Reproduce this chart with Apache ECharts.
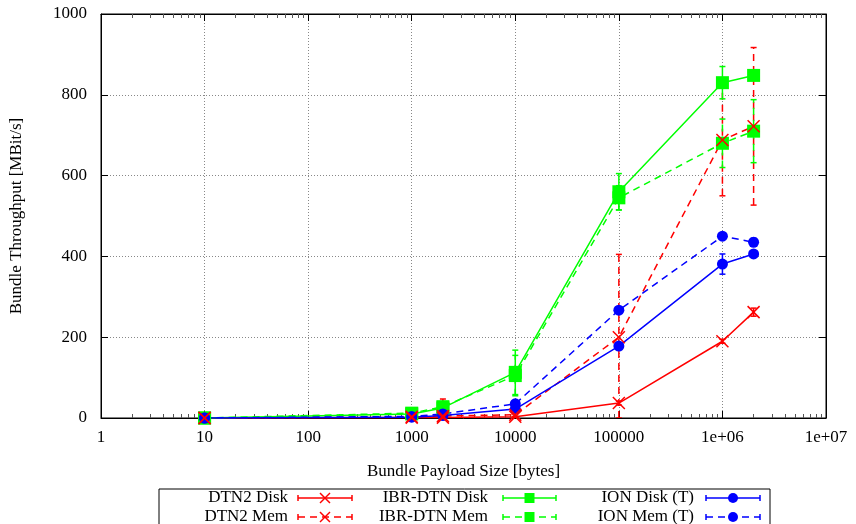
<!DOCTYPE html>
<html>
<head>
<meta charset="utf-8">
<script src="https://cdn.jsdelivr.net/npm/echarts@6/dist/echarts.min.js"></script>
<style>
  html, body { margin: 0; padding: 0; background: #fff; }
  #chart { width: 856px; height: 524px; }
</style>
</head>
<body>
<div id="chart"></div>
<script>
// payload sizes (bytes)
var sizes = [10, 1000, 2000, 10000, 100000, 1000000, 2000000];

// throughput values [MBit/s]
var dtn2Disk = [0, 1, 1, 3, 37, 190, 262];
var dtn2Mem = [0, 3, 5, 8, 200, 688, 722];
var ibrDisk = [0, 10, 25, 113, 560, 830, 848];
var ibrMem = [0, 12, 28, 105, 545, 680, 710];
var ionDisk = [0, 2, 6, 22, 178, 381, 406];
var ionMem = [0, 4, 10, 35, 267, 450, 435];

// error bar half widths
var dtn2DiskErr = [0, 0, 0, 1, 5, 5, 10];
var dtn2MemErr = [0, 2, 42, 5, 205, 138, 195];
var ibrDiskErr = [0, 2, 5, 55, 45, 40, 10];
var ibrMemErr = [0, 2, 5, 50, 30, 60, 78];
var ionDiskErr = [0, 1, 2, 5, 5, 25, 5];
var ionMemErr = [0, 1, 2, 5, 5, 5, 10];

var xTickLabels = {1: '1', 10: '10', 100: '100', 1000: '1000', 10000: '10000', 100000: '100000', 1000000: '1e+06', 10000000: '1e+07'};

var RED = '#ff0000', GREEN = '#00ff00', BLUE = '#0000ff';

var defs = [
  {name: 'DTN2 Disk', data: dtn2Disk, err: dtn2DiskErr, color: RED, dash: false, symbol: 'cross'},
  {name: 'DTN2 Mem', data: dtn2Mem, err: dtn2MemErr, color: RED, dash: true, symbol: 'cross'},
  {name: 'IBR-DTN Disk', data: ibrDisk, err: ibrDiskErr, color: GREEN, dash: false, symbol: 'rect'},
  {name: 'IBR-DTN Mem', data: ibrMem, err: ibrMemErr, color: GREEN, dash: true, symbol: 'rect'},
  {name: 'ION Disk (T)', data: ionDisk, err: ionDiskErr, color: BLUE, dash: false, symbol: 'circle'},
  {name: 'ION Mem (T)', data: ionMem, err: ionMemErr, color: BLUE, dash: true, symbol: 'circle'}
];

var DASH = [7, 5];
var FONT = '"Liberation Serif", "DejaVu Serif", serif';
var FS = 17;

function crossChildren(cx, cy, r, color) {
  return [
    {type: 'line', shape: {x1: cx - r, y1: cy - r, x2: cx + r, y2: cy + r}, style: {stroke: color, lineWidth: 1.5}},
    {type: 'line', shape: {x1: cx - r, y1: cy + r, x2: cx + r, y2: cy - r}, style: {stroke: color, lineWidth: 1.5}}
  ];
}

var series = [];
defs.forEach(function (d) {
  var pts = sizes.map(function (s, i) { return [s, d.data[i]]; });
  var errPts = sizes.map(function (s, i) { return [s, Math.max(0, d.data[i] - d.err[i]), d.data[i] + d.err[i]]; });
  // error bars
  series.push({
    type: 'custom',
    name: d.name + ' err',
    data: errPts,
    clip: true,
    z: 2,
    renderItem: function (params, api) {
      var lo = api.coord([api.value(0), api.value(1)]);
      var hi = api.coord([api.value(0), api.value(2)]);
      var st = {stroke: d.color, lineWidth: 1.5, lineDash: d.dash ? DASH : null};
      return {type: 'group', children: [
        {type: 'line', shape: {x1: lo[0], y1: lo[1], x2: hi[0], y2: hi[1]}, style: st},
        {type: 'line', shape: {x1: lo[0] - 3, y1: lo[1], x2: lo[0] + 3, y2: lo[1]}, style: {stroke: d.color, lineWidth: 1.5}},
        {type: 'line', shape: {x1: hi[0] - 3, y1: hi[1], x2: hi[0] + 3, y2: hi[1]}, style: {stroke: d.color, lineWidth: 1.5}}
      ]};
    }
  });
  if (d.symbol === 'cross') {
    series.push({
      type: 'line', name: d.name, data: pts, showSymbol: false, z: 3,
      lineStyle: {color: d.color, width: 1.5, type: d.dash ? DASH : 'solid'},
      itemStyle: {color: d.color}
    });
    series.push({
      type: 'custom', name: d.name + ' mk', data: pts, z: 4,
      renderItem: function (params, api) {
        var p = api.coord([api.value(0), api.value(1)]);
        return {type: 'group', children: crossChildren(p[0], p[1], 6, d.color)};
      }
    });
  } else {
    series.push({
      type: 'line', name: d.name, data: pts, z: 3,
      symbol: d.symbol, symbolSize: d.symbol === 'rect' ? 13 : 11, showAllSymbol: true,
      lineStyle: {color: d.color, width: 1.5, type: d.dash ? DASH : 'solid'},
      itemStyle: {color: d.color, borderWidth: 0}
    });
  }
});

// legend drawn as graphic (gnuplot style: text then sample)
var legendCols = [{textRight: 288, x1: 298, x2: 352}, {textRight: 488, x1: 503, x2: 556}, {textRight: 694, x1: 706, x2: 760}];
var legendRows = [498, 517];
var graphics = [{
  type: 'rect', shape: {x: 159, y: 489, width: 611, height: 45},
  style: {fill: 'none', stroke: '#000', lineWidth: 1}
}];
defs.forEach(function (d, i) {
  var col = legendCols[Math.floor(i / 2)], y = legendRows[i % 2];
  var mid = (col.x1 + col.x2) / 2;
  graphics.push({type: 'text', style: {text: d.name, x: col.textRight, y: y, align: 'right', verticalAlign: 'middle', font: FS + 'px ' + FONT, fill: '#000'}});
  graphics.push({type: 'line', shape: {x1: col.x1, y1: y, x2: col.x2, y2: y}, style: {stroke: d.color, lineWidth: 1.5, lineDash: d.dash ? DASH : null}});
  graphics.push({type: 'line', shape: {x1: col.x1, y1: y - 3, x2: col.x1, y2: y + 3}, style: {stroke: d.color, lineWidth: 1.5}});
  graphics.push({type: 'line', shape: {x1: col.x2, y1: y - 3, x2: col.x2, y2: y + 3}, style: {stroke: d.color, lineWidth: 1.5}});
  if (d.symbol === 'cross') {
    crossChildren(mid, y, 5, d.color).forEach(function (c) { graphics.push(c); });
  } else if (d.symbol === 'rect') {
    graphics.push({type: 'rect', shape: {x: mid - 5, y: y - 5, width: 10, height: 10}, style: {fill: d.color}});
  } else {
    graphics.push({type: 'circle', shape: {cx: mid, cy: y, r: 5}, style: {fill: d.color}});
  }
});

var gridLine = {show: true, lineStyle: {color: '#888', type: [1, 2], width: 1}};
var tickStyle = {show: true, inside: true, length: 7, lineStyle: {color: '#000'}};
var minorStyle = {show: true, splitNumber: 9, length: 4, lineStyle: {color: '#555'}};

var chart = echarts.init(document.getElementById('chart'), null, {renderer: 'canvas'});
chart.setOption({
  animation: false,
  backgroundColor: '#fff',
  grid: {left: 100, right: 30, top: 14, bottom: 106, show: true, borderColor: '#000', borderWidth: 1, backgroundColor: 'transparent'},
  xAxis: [{
    type: 'log', logBase: 10, min: 1, max: 10000000,
    name: 'Bundle Payload Size [bytes]', nameLocation: 'middle', nameGap: 45,
    nameTextStyle: {fontFamily: FONT, fontSize: FS, color: '#000'},
    axisLine: {show: true, onZero: false, lineStyle: {color: '#000'}},
    axisTick: tickStyle,
    minorTick: minorStyle,
    axisLabel: {fontFamily: FONT, fontSize: FS, color: '#000', margin: 11,
      formatter: function (v) { return xTickLabels[Math.round(v)] || ''; }},
    splitLine: gridLine
  }, {
    type: 'log', logBase: 10, min: 1, max: 10000000, position: 'top',
    axisLine: {show: true, onZero: false, lineStyle: {color: '#000'}},
    axisTick: tickStyle, minorTick: minorStyle,
    axisLabel: {show: false}, splitLine: {show: false}
  }],
  yAxis: [{
    type: 'value', min: 0, max: 1000, interval: 200,
    name: 'Bundle Throughput [MBit/s]', nameLocation: 'middle', nameGap: 76,
    nameTextStyle: {fontFamily: FONT, fontSize: FS, color: '#000'},
    axisLine: {show: true, lineStyle: {color: '#000'}},
    axisTick: tickStyle,
    axisLabel: {fontFamily: FONT, fontSize: FS, color: '#000', margin: 14,
      formatter: function (v) { return String(v); }},
    splitLine: gridLine
  }, {
    type: 'value', min: 0, max: 1000, interval: 200, position: 'right',
    axisLine: {show: true, lineStyle: {color: '#000'}},
    axisTick: tickStyle, axisLabel: {show: false}, splitLine: {show: false}
  }],
  series: series,
  graphic: graphics
});
</script>
</body>
</html>
